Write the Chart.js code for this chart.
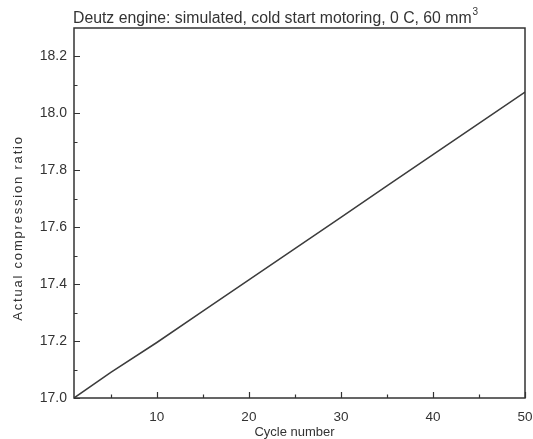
<!DOCTYPE html>
<html>
<head>
<meta charset="utf-8">
<script src="https://cdn.jsdelivr.net/npm/chart.js@4/dist/chart.umd.min.js"></script>
<style>
	html, body { margin: 0; padding: 0; background: #fff; }
	canvas { display: block; }
</style>
</head>
<body>
<canvas id="chart" width="533" height="439"></canvas>
<script>
// simulated cold start motoring, 0 C, 60 mm3
const cycles = [1, 5, 10, 15, 20, 25, 30, 35, 40, 45, 50]
const ratio = [17.0, 17.09, 17.195, 17.305, 17.415, 17.525, 17.635, 17.745, 17.855, 17.965, 18.075]

const xTicks = [10, 20, 30, 40, 50]
const xMinor = [5, 15, 25, 35, 45]
const yTicks = [17.0, 17.2, 17.4, 17.6, 17.8, 18.0, 18.2]
const yMinor = [17.1, 17.3, 17.5, 17.7, 17.9, 18.1]

const FONT = "'Liberation Sans', Arial, sans-serif"
const INK = "#333"

function toPoints(xs, ys) {
	return xs.map((x, i) => ({ x, y: ys[i] }))
}

// box around the plot, inward ticks and the text labels
const framePlugin = {
	id: "frame",
	afterDraw(chart) {
		const { ctx, chartArea: a, scales } = chart
		const x = scales.x
		const y = scales.y
		ctx.save()
		ctx.strokeStyle = INK
		ctx.lineWidth = 1.5
		ctx.strokeRect(a.left, a.top, a.right - a.left, a.bottom - a.top)

		ctx.lineWidth = 1.2
		ctx.beginPath()
		xTicks.forEach((v) => {
			const px = Math.round(x.getPixelForValue(v)) + 0.5
			ctx.moveTo(px, a.bottom)
			ctx.lineTo(px, a.bottom - 6)
		})
		xMinor.forEach((v) => {
			const px = Math.round(x.getPixelForValue(v)) + 0.5
			ctx.moveTo(px, a.bottom)
			ctx.lineTo(px, a.bottom - 3.5)
		})
		yTicks.forEach((v) => {
			const py = Math.round(y.getPixelForValue(v)) + 0.5
			ctx.moveTo(a.left, py)
			ctx.lineTo(a.left + 6, py)
		})
		yMinor.forEach((v) => {
			const py = Math.round(y.getPixelForValue(v)) + 0.5
			ctx.moveTo(a.left, py)
			ctx.lineTo(a.left + 3.5, py)
		})
		ctx.stroke()

		ctx.fillStyle = INK
		ctx.textBaseline = "alphabetic"

		// title with superscript unit
		ctx.font = "15.8px " + FONT
		ctx.textAlign = "left"
		const title = "Deutz engine: simulated, cold start motoring, 0 C, 60 mm"
		ctx.fillText(title, a.left - 1, 23)
		const w = ctx.measureText(title).width
		ctx.font = "10px " + FONT
		ctx.fillText("3", a.left - 1 + w + 1, 15)

		// axis titles
		ctx.font = "13px " + FONT
		ctx.textAlign = "center"
		ctx.fillText("Cycle number", (a.left + a.right) / 2 - 5, 436)

		ctx.translate(22, (a.top + a.bottom) / 2 + 15)
		ctx.rotate(-Math.PI / 2)
		ctx.letterSpacing = "1.8px"
		ctx.fillText("Actual compression ratio", 0, 0)
		ctx.restore()
	},
}

new Chart(document.getElementById("chart"), {
	type: "scatter",
	data: {
		datasets: [
			{
				data: toPoints(cycles, ratio),
				showLine: true,
				borderColor: "#3c3c3c",
				borderWidth: 1.5,
				pointRadius: 0,
				tension: 0,
			},
		],
	},
	options: {
		responsive: false,
		animation: false,
		layout: { padding: { top: 28, right: 8, left: 0, bottom: 0 } },
		plugins: {
			legend: { display: false },
			tooltip: { enabled: false },
			title: { display: false },
		},
		scales: {
			x: {
				type: "linear",
				min: 1,
				max: 50,
				grid: { display: false, drawTicks: false },
				border: { display: false },
				ticks: {
					color: INK,
					font: { family: FONT, size: 13.5 },
					padding: 11,
					maxRotation: 0,
				},
				afterBuildTicks: (scale) => {
					scale.ticks = xTicks.map((value) => ({ value }))
				},
				afterFit: (scale) => {
					scale.height = 41
					scale.paddingLeft = 0
					scale.paddingRight = 0
				},
			},
			y: {
				min: 17.0,
				max: 18.3,
				grid: { display: false, drawTicks: false },
				border: { display: false },
				ticks: {
					color: INK,
					font: { family: FONT, size: 14 },
					padding: 7,
					callback: (value) => value.toFixed(1),
				},
				afterBuildTicks: (scale) => {
					scale.ticks = yTicks.map((value) => ({ value }))
				},
				afterFit: (scale) => {
					scale.width = 74
					scale.paddingTop = 0
					scale.paddingBottom = 0
				},
			},
		},
	},
	plugins: [framePlugin],
})
</script>
</body>
</html>
